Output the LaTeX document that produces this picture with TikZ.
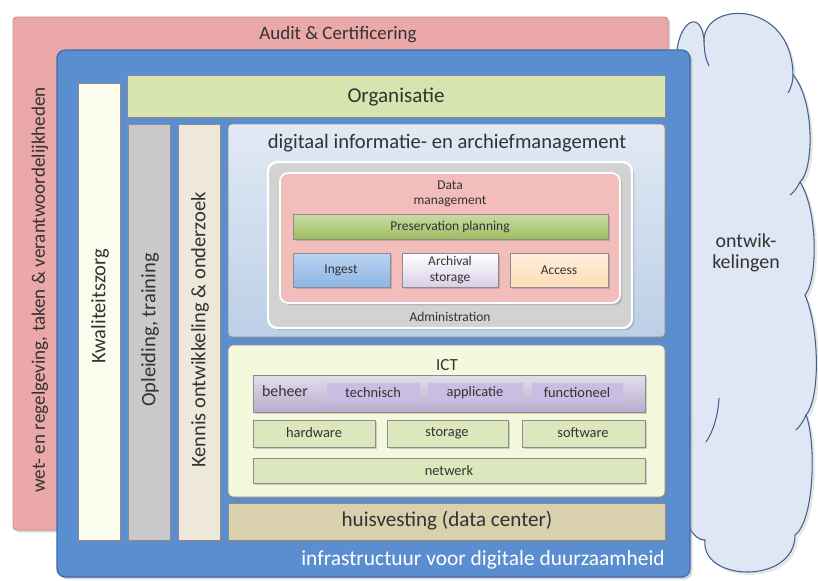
\documentclass[tikz,border=0pt]{standalone}
\usepackage{fontspec}
\setmainfont{Carlito}
\usetikzlibrary{shadows,positioning}

\definecolor{auditpink}{HTML}{EBA8A8}
\definecolor{auditborder}{HTML}{D08C8B}
\definecolor{infrablue}{HTML}{5B8ED0}
\definecolor{infraborder}{HTML}{3C6AA8}
\definecolor{orggreen}{HTML}{D7E4B0}
\definecolor{kwalcream}{HTML}{FBFBEE}
\definecolor{oplgray}{HTML}{C9C9C9}
\definecolor{kennisbeige}{HTML}{EEE8DA}
\definecolor{dimblue}{HTML}{E2EAF4}
\definecolor{dimblue2}{HTML}{BCCFE7}
\definecolor{admgray}{HTML}{D2D2D2}
\definecolor{dmpink}{HTML}{F3BDBC}
\definecolor{ppgreen}{HTML}{9DBE5E}
\definecolor{ingestblue}{HTML}{8DB6E6}
\definecolor{archlilac}{HTML}{D8CFE6}
\definecolor{accesspeach}{HTML}{FDDDB8}
\definecolor{ictcream}{HTML}{F4F8DC}
\definecolor{beheerlilac}{HTML}{B8ACCF}
\definecolor{subboxlilac}{HTML}{C9BEE2}
\definecolor{hwgreen}{HTML}{DCE7BE}
\definecolor{huistan}{HTML}{D9D0AE}
\definecolor{cloudblue}{HTML}{DEE7F3}
\definecolor{cloudline}{HTML}{41618A}
\definecolor{txtgray}{HTML}{333333}

\begin{document}
\begin{tikzpicture}[x=0.03cm, y=-0.03cm,
    shade box/.style={drop shadow={opacity=0.35, shadow xshift=2pt, shadow yshift=-2pt}},
    bigtxt/.style={text=txtgray, font=\fontsize{18}{20}\selectfont},
    coltxt/.style={text=txtgray, font=\fontsize{17.5}{20}\selectfont, rotate=90},
    midtxt/.style={text=txtgray, font=\fontsize{12.3}{14}\selectfont},
    smalltxt/.style={text=txtgray, font=\fontsize{11.5}{13}\selectfont, align=center},
    inbox/.style={draw=black!45, line width=0.8pt, shade box},
    cloudstroke/.style={draw=cloudline, line width=0.9pt}]
    \useasboundingbox (0,0) rectangle (818,580);

    % Cloud with developments
    \draw[cloudstroke, fill=cloudblue, drop shadow={opacity=0.2}]
        (680,90) .. controls (665,30) and (700,0) .. (704,40)
        .. controls (705,0) and (792,0) .. (793,75)
        .. controls (815,100) and (814,170) .. (800,182)
        .. controls (818,210) and (818,280) .. (805,295)
        .. controls (820,330) and (820,400) .. (806,415)
        .. controls (816,440) and (815,520) .. (795,535)
        .. controls (795,585) and (700,582) .. (705,540)
        .. controls (680,540) and (675,470) .. (690,440) -- cycle;
    \draw[cloudstroke] (704,40) .. controls (704,52) and (706,60) .. (709,66);
    \draw[cloudstroke] (793,75) .. controls (793,82) and (791,88) .. (788,93);
    \draw[cloudstroke] (800,182) .. controls (797,188) and (794,192) .. (790,195);
    \draw[cloudstroke] (806,415) .. controls (803,422) and (800,426) .. (796,430);
    \draw[cloudstroke] (719,398) .. controls (718,415) and (714,430) .. (706,442);
    \node[text=txtgray, align=center, font=\fontsize{17}{17.5}\selectfont] (ontw) at (746,253) {ontwik-\\kelingen};

    % Audit & Certificering
    \draw[fill=auditpink, draw=auditborder, line width=0.8pt, rounded corners=3pt, shade box] (13,17) rectangle (668,530);
    \node[text=txtgray, font=\fontsize{16.2}{18}\selectfont] (audit) at (338,35) {Audit \& Certificering};
    \node[text=txtgray, font=\fontsize{16.3}{18}\selectfont, rotate=90] (wet) at (40,290) {wet- en regelgeving, taken \& verantwoordelijkheden};

    % Infrastructuur
    \draw[fill=infrablue, draw=infraborder, line width=1pt, rounded corners=7pt, shade box] (57,50) rectangle (690,577);
    \node[text=white, font=\fontsize{18.3}{20}\selectfont] (infra) at (483,560) {infrastructuur voor digitale duurzaamheid};

    % Columns and Organisatie
    \draw[fill=kwalcream, inbox] (78,83) rectangle (120,540);
    \node[coltxt] (kwal) at (100,306) {Kwaliteitszorg};
    \draw[fill=orggreen, inbox] (127,75) rectangle (665,117);
    \node[bigtxt] (org) at (396,97) {Organisatie};
    \draw[fill=oplgray, inbox] (128,124) rectangle (170,540);
    \node[coltxt] (opl) at (150,330) {Opleiding, training};
    \draw[fill=kennisbeige, inbox] (178,124) rectangle (220,540);
    \node[coltxt] (kennis) at (200,330) {Kennis ontwikkeling \& onderzoek};

    % digitaal informatie- en archiefmanagement
    \draw[top color=dimblue, bottom color=dimblue2, inbox, rounded corners=3pt] (228,124) rectangle (665,337);
    \node[bigtxt, font=\fontsize{17.6}{20}\selectfont] (dim) at (447,143) {digitaal informatie- en archiefmanagement};
    \draw[fill=admgray, draw=white, line width=2pt, rounded corners=8pt, shade box] (268,162) rectangle (632,328);
    \node[smalltxt] (adm) at (450,317) {Administration};
    \draw[fill=dmpink, draw=white, line width=1.5pt, rounded corners=7pt, shade box] (280,173) rectangle (620,303);
    \node[smalltxt] (dm) at (450,194) {Data\\management};
    \draw[top color=ppgreen!55, bottom color=ppgreen, inbox] (293,214) rectangle (608,239);
    \node[smalltxt] (pp) at (450,227) {Preservation planning};
    \draw[top color=ingestblue!60, bottom color=ingestblue, inbox] (293,253) rectangle (390,287);
    \node[smalltxt] (ingest) at (341,270) {Ingest};
    \draw[top color=white, bottom color=archlilac, inbox] (402,253) rectangle (498,287);
    \node[smalltxt] (arch) at (450,270) {Archival\\storage};
    \draw[top color=accesspeach!50, bottom color=accesspeach, inbox] (510,253) rectangle (608,287);
    \node[smalltxt] (access) at (559,270) {Access};

    % ICT
    \draw[fill=ictcream, inbox, rounded corners=4pt] (228,345) rectangle (665,497);
    \node[midtxt, font=\fontsize{14.5}{16}\selectfont] (ict) at (447,365) {ICT};
    \draw[top color=beheerlilac!40, bottom color=beheerlilac, inbox] (253,375) rectangle (645,412);
    \node[midtxt, font=\fontsize{13.5}{15}\selectfont] (beheer) at (285,391) {beheer};
    \draw[fill=subboxlilac, draw=none] (327,383) rectangle (420,403);
    \node[midtxt] (techn) at (373,393) {technisch};
    \draw[fill=subboxlilac, draw=none] (428,383) rectangle (523,403);
    \node[midtxt] (appl) at (475,393) {applicatie};
    \draw[fill=subboxlilac, draw=none] (532,383) rectangle (623,403);
    \node[midtxt] (func) at (577,393) {functioneel};
    \draw[fill=hwgreen, inbox] (253,420) rectangle (375,447);
    \node[midtxt] (hw) at (314,433) {hardware};
    \draw[fill=hwgreen, inbox] (387,420) rectangle (508,447);
    \node[midtxt] (stor) at (447,433) {storage};
    \draw[fill=hwgreen, inbox] (522,420) rectangle (645,447);
    \node[midtxt] (sw) at (583,433) {software};
    \draw[fill=hwgreen, inbox] (253,458) rectangle (645,483);
    \node[midtxt] (net) at (449,471) {netwerk};

    % huisvesting
    \draw[fill=huistan, inbox] (228,503) rectangle (665,540);
    \node[bigtxt] (huis) at (447,521) {huisvesting (data center)};
\end{tikzpicture}
\end{document}
